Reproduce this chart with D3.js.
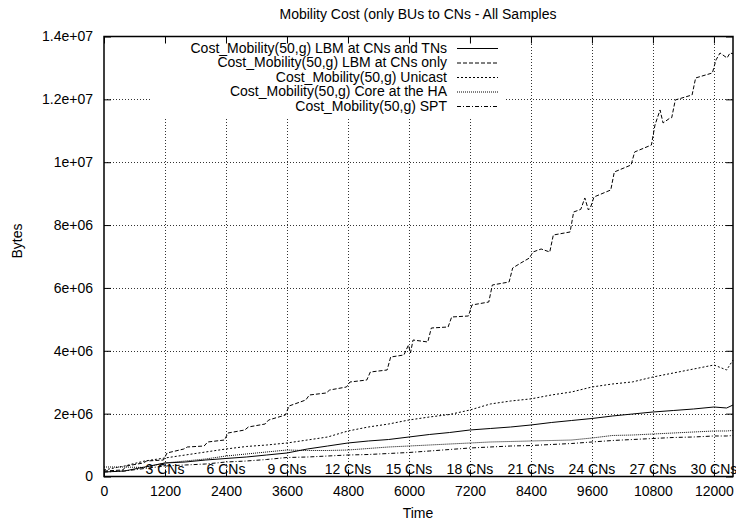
<!DOCTYPE html>
<html>
<head>
<meta charset="utf-8">
<script src="https://cdn.jsdelivr.net/npm/d3@7"></script>
<style>
  body { margin: 0; background: #fff; }
  text { font-family: "Liberation Sans", Arial, sans-serif; font-size: 14px; fill: #000; }
</style>
</head>
<body>
<svg id="chart" width="736" height="525"></svg>
<script>
// sample times (one per CN arrival, plus the tail)
const tCN = [0, 400, 800, 1200, 1600, 2000, 2400, 2800, 3200, 3600, 4000, 4400, 4800, 5200, 5600, 6000,
  6400, 6800, 7200, 7600, 8000, 8400, 8800, 9200, 9600, 10000, 10400, 10800, 11200, 11600, 12000, 12250, 12375];

const costCNsTNs = [143e3, 175e3, 302e3, 430e3, 461e3, 525e3, 573e3, 620e3, 684e3, 748e3, 875e3, 970e3,
  1066e3, 1130e3, 1177e3, 1257e3, 1336e3, 1400e3, 1480e3, 1527e3, 1575e3, 1639e3, 1718e3, 1782e3, 1845e3,
  1925e3, 1989e3, 2052e3, 2100e3, 2148e3, 2211e3, 2180e3, 2275e3];
const costUnicast = [207e3, 334e3, 493e3, 589e3, 684e3, 780e3, 875e3, 955e3, 1002e3, 1066e3, 1161e3, 1257e3,
  1448e3, 1575e3, 1670e3, 1798e3, 1893e3, 1973e3, 2116e3, 2307e3, 2402e3, 2470e3, 2593e3, 2690e3, 2848e3,
  2943e3, 3010e3, 3166e3, 3293e3, 3420e3, 3548e3, 3389e3, 3707e3];
const costCoreHA = [302e3, 302e3, 286e3, 430e3, 493e3, 557e3, 652e3, 716e3, 780e3, 843e3, 827e3, 827e3,
  843e3, 891e3, 939e3, 970e3, 1002e3, 1034e3, 1066e3, 1098e3, 1114e3, 1130e3, 1145e3, 1161e3, 1225e3,
  1305e3, 1320e3, 1352e3, 1384e3, 1416e3, 1448e3, 1448e3, 1464e3];
const costSPT = [143e3, 175e3, 255e3, 334e3, 366e3, 398e3, 461e3, 493e3, 541e3, 605e3, 620e3, 652e3,
  684e3, 700e3, 732e3, 764e3, 811e3, 859e3, 907e3, 939e3, 970e3, 986e3, 1018e3, 1050e3, 1098e3,
  1145e3, 1177e3, 1209e3, 1241e3, 1257e3, 1289e3, 1289e3, 1305e3];

// LBM at CNs only: stepped, so sampled before/after each step
const tCNsOnly = [0, 370, 440, 770, 840, 1170, 1240, 1570, 1640, 1970, 2040, 2370, 2440, 2770, 2840, 3170,
  3240, 3570, 3640, 3970, 4040, 4370, 4440, 4770, 4840, 5170, 5240, 5570, 5640, 5900, 5990, 6030, 6080, 6370,
  6440, 6770, 6840, 7170, 7240, 7570, 7640, 7970, 8040, 8200, 8370, 8440, 8600, 8770, 8840, 9170,
  9240, 9380, 9460, 9530, 9570, 9640, 9970, 10040, 10370, 10440, 10770, 10840, 10940, 10999, 11137, 11170,
  11240, 11570, 11640, 11970, 12040, 12120, 12258, 12317, 12375];
const costCNsOnly = [175e3, 207e3, 334e3, 430e3, 493e3, 525e3, 748e3, 875e3, 939e3, 970e3, 1098e3, 1161e3,
  1384e3, 1480e3, 1575e3, 1670e3, 1798e3, 1957e3, 2243e3, 2434e3, 2593e3, 2657e3, 2752e3, 2848e3,
  3007e3, 3070e3, 3325e3, 3389e3, 3802e3, 3866e3, 4184e3, 3930e3, 4343e3, 4280e3, 4725e3, 4757e3,
  5075e3, 5107e3, 5457e3, 5552e3, 6093e3, 6189e3, 6634e3, 6793e3, 6952e3, 7143e3, 7239e3, 7143e3,
  7684e3, 7780e3, 8416e3, 8500e3, 8862e3, 8480e3, 8550e3, 8894e3, 9116e3, 9689e3, 9912e3,
  10326e3, 10548e3, 11185e3, 11662e3, 11249e3, 11408e3, 11420e3, 11981e3, 12140e3, 12681e3, 12840e3,
  13254e3, 13476e3, 13317e3, 13476e3, 13450e3];

const xTicks = [0, 1200, 2400, 3600, 4800, 6000, 7200, 8400, 9600, 10800, 12000];
const yTicks = [0, 2e6, 4e6, 6e6, 8e6, 10e6, 12e6, 14e6];
const yTickLabels = ['0', '2e+06', '4e+06', '6e+06', '8e+06', '1e+07', '1.2e+07', '1.4e+07'];
const cnTicks = [1200, 2400, 3600, 4800, 6000, 7200, 8400, 9600, 10800, 12000];
const cnLabels = ['3 CNs', '6 CNs', '9 CNs', '12 CNs', '15 CNs', '18 CNs', '21 CNs', '24 CNs', '27 CNs', '30 CNs'];
const seriesNames = ['Cost_Mobility(50,g) LBM at CNs and TNs', 'Cost_Mobility(50,g) LBM at CNs only',
  'Cost_Mobility(50,g) Unicast', 'Cost_Mobility(50,g) Core at the HA', 'Cost_Mobility(50,g) SPT'];

const pL = 104, pR = 733, pT = 36.5, pB = 476.5;
const x = d3.scaleLinear().domain([0, 12375]).range([pL, pR]);
const y = d3.scaleLinear().domain([0, 1.4e7]).range([pB, pT]);
const svg = d3.select('#chart');

// grid
const grid = svg.append('g').attr('stroke', '#333').attr('stroke-dasharray', '1,2').attr('shape-rendering', 'crispEdges');
grid.selectAll('.gx').data(cnTicks).enter().append('line')
  .attr('x1', d => Math.round(x(d)) + 0.5).attr('x2', d => Math.round(x(d)) + 0.5)
  .attr('y1', pB).attr('y2', pT);
grid.selectAll('.gy').data(yTicks.slice(1, -1)).enter().append('line')
  .attr('y1', d => Math.round(y(d)) + 0.5).attr('y2', d => Math.round(y(d)) + 0.5)
  .attr('x1', pL).attr('x2', pR);

// CN labels inside the plot
svg.append('g').selectAll('text').data(cnTicks).enter().append('text')
  .attr('x', d => x(d)).attr('y', 474).attr('text-anchor', 'middle')
  .text((d, i) => cnLabels[i]);

// series
const series = [
  { t: tCN, v: costCNsTNs, dash: null },
  { t: tCNsOnly, v: costCNsOnly, dash: '4,2' },
  { t: tCN, v: costUnicast, dash: '2,2' },
  { t: tCN, v: costCoreHA, dash: '1,1' },
  { t: tCN, v: costSPT, dash: '4,2,1,2' }
];
const line = d3.line().x(d => x(d[0])).y(d => y(d[1]));
series.forEach(s => {
  svg.append('path')
    .datum(s.t.map((t, i) => [t, s.v[i]]))
    .attr('fill', 'none').attr('stroke', '#000').attr('stroke-width', 1)
    .attr('stroke-dasharray', s.dash)
    .attr('d', line);
});

// opaque key
svg.append('rect').attr('x', 150).attr('y', 43).attr('width', 355).attr('height', 74).attr('fill', '#fff');
const key = svg.append('g');
seriesNames.forEach((name, i) => {
  const ky = 48 + i * 14.5;
  key.append('text').attr('x', 447).attr('y', ky).attr('dy', '0.35em').attr('text-anchor', 'end').text(name);
  key.append('line').attr('x1', 457).attr('x2', 498).attr('y1', ky + 0.5).attr('y2', ky + 0.5)
    .attr('stroke', '#000').attr('stroke-dasharray', series[i].dash);
});

// axes with inward ticks
svg.append('g').attr('transform', `translate(${pL},0)`)
  .call(d3.axisLeft(y).tickValues(yTicks).tickSizeInner(-7).tickSizeOuter(0).tickPadding(11)
    .tickFormat((d, i) => yTickLabels[i]))
  .call(g => g.select('.domain').remove());
svg.append('g').attr('transform', `translate(${pR},0)`)
  .call(d3.axisRight(y).tickValues(yTicks).tickSizeInner(-7).tickSizeOuter(0).tickFormat(''))
  .call(g => g.select('.domain').remove());
svg.append('g').attr('transform', `translate(0,${pB})`)
  .call(d3.axisBottom(x).tickValues(xTicks).tickSizeInner(-7).tickSizeOuter(0).tickPadding(10)
    .tickFormat(d3.format('d')))
  .call(g => g.select('.domain').remove());
svg.append('g').attr('transform', `translate(0,${pT})`)
  .call(d3.axisTop(x).tickValues(xTicks).tickSizeInner(-7).tickSizeOuter(0).tickFormat(''))
  .call(g => g.select('.domain').remove());
svg.selectAll('.tick text').style('font-size', '14px').style('font-family', '"Liberation Sans", Arial, sans-serif');

// border
svg.append('rect').attr('x', pL).attr('y', pT).attr('width', pR - pL).attr('height', pB - pT)
  .attr('fill', 'none').attr('stroke', '#000').attr('stroke-width', 1.5);

// titles
svg.append('text').attr('x', 418).attr('y', 19).attr('text-anchor', 'middle')
  .text('Mobility Cost (only BUs to CNs - All Samples');
svg.append('text').attr('x', 418).attr('y', 518).attr('text-anchor', 'middle').text('Time');
svg.append('text').attr('transform', 'translate(22,241) rotate(-90)').attr('text-anchor', 'middle').text('Bytes');
</script>
</body>
</html>
